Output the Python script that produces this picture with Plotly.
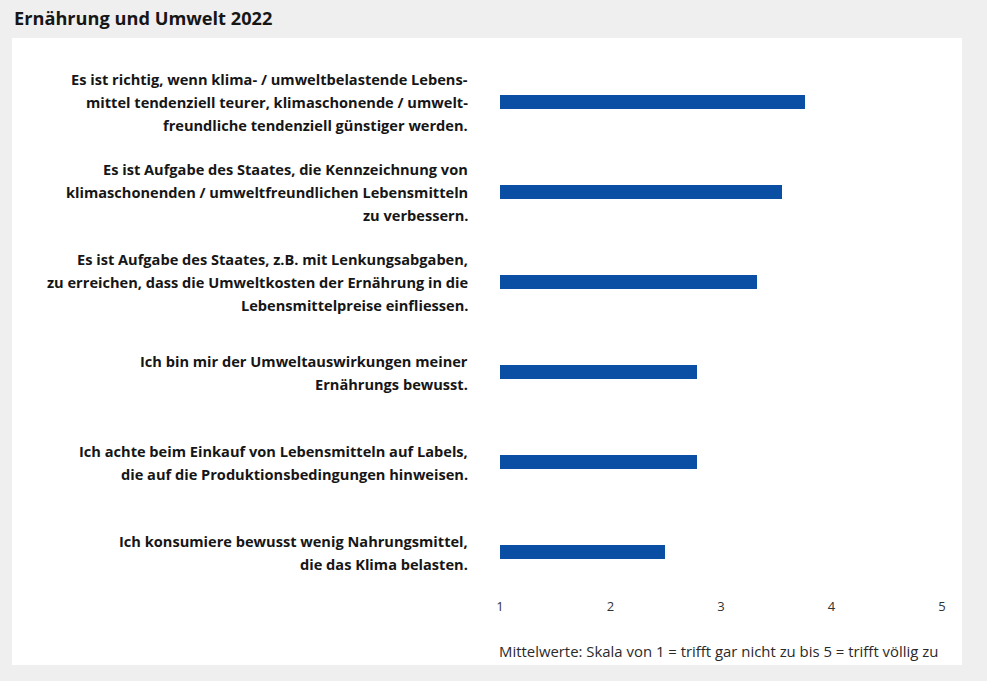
import plotly.graph_objects as go

# Statements (line breaks as they are set in the chart) and mean scores
statements = [
    "Es ist richtig, wenn klima- / umweltbelastende Lebens-<br>mittel tendenziell teurer, klimaschonende / umwelt-<br>freundliche tendenziell günstiger werden.",
    "Es ist Aufgabe des Staates, die Kennzeichnung von<br>klimaschonenden / umweltfreundlichen Lebensmitteln<br>zu verbessern.",
    "Es ist Aufgabe des Staates, z.B. mit Lenkungsabgaben,<br>zu erreichen, dass die Umweltkosten der Ernährung in die<br>Lebensmittelpreise einfliessen.",
    "Ich bin mir der Umweltauswirkungen meiner<br>Ernährungs bewusst.",
    "Ich achte beim Einkauf von Lebensmitteln auf Labels,<br>die auf die Produktionsbedingungen hinweisen.",
    "Ich konsumiere bewusst wenig Nahrungsmittel,<br>die das Klima belasten.",
]
means = [3.76, 3.55, 3.33, 2.78, 2.78, 2.49]
tick_vals = [1, 2, 3, 4, 5]
tick_text = ["1", "2", "3", "4", "5"]

title_text = "Ernährung und Umwelt 2022"
note_text = "Mittelwerte: Skala von 1 = trifft gar nicht zu bis 5 = trifft völlig zu"

W, H = 987, 681
M_L, M_R, M_T, M_B = 500, 45, 57, 84
PW, PH = W - M_L - M_R, H - M_T - M_B
BAR_COLOR = "#0a4fa3"
FONT = "Open Sans"


def px_x(px):
    """Horizontal pixel position -> paper coordinate of the plot area."""
    return (px - M_L) / PW


def px_y(py):
    """Vertical pixel position (from top) -> paper coordinate of the plot area."""
    return (H - M_B - py) / PH


positions = list(range(len(statements)))

fig = go.Figure()
fig.add_trace(go.Bar(
    x=[m - 1 for m in means],
    base=[1] * len(means),
    y=positions,
    orientation="h",
    width=0.145,
    marker=dict(color=BAR_COLOR, line=dict(width=0)),
    hoverinfo="skip",
))

annotations = []
LINE_H = 23
for pos, label in zip(positions, statements):
    lines = label.split("<br>")
    n = len(lines)
    for k, line in enumerate(lines):
        offset = ((n - 1) / 2 - k) * LINE_H
        annotations.append(dict(
            x=1, xref="x", xshift=-30, xanchor="right",
            y=pos, yref="y", yshift=offset, yanchor="middle",
            text="<b>" + line + "</b>", showarrow=False,
            font=dict(family=FONT, size=14.6, color="#161616"),
        ))

annotations.append(dict(
    x=px_x(12), xref="paper", xanchor="left",
    y=px_y(18), yref="paper", yanchor="middle",
    text="<b>" + title_text + "</b>", showarrow=False,
    font=dict(family=FONT, size=18.2, color="#161616"),
))
annotations.append(dict(
    x=1, xref="x", xanchor="left", xshift=-3,
    y=px_y(651), yref="paper", yanchor="middle",
    text=note_text, showarrow=False,
    font=dict(family=FONT, size=14.9, color="#2a2a2a"),
))

shapes = [
    # white content panel on the grey page
    dict(type="rect", xref="paper", yref="paper",
         x0=px_x(12), x1=px_x(962), y0=px_y(665), y1=px_y(38),
         fillcolor="white", line=dict(width=0), layer="below"),
]

fig.update_layout(
    width=W, height=H,
    margin=dict(l=M_L, r=M_R, t=M_T, b=M_B),
    paper_bgcolor="#efefef",
    plot_bgcolor="rgba(0,0,0,0)",
    showlegend=False,
    bargap=0,
    xaxis=dict(
        range=[1, 5], tickvals=tick_vals, ticktext=tick_text,
        showgrid=False, zeroline=False, showline=False, ticks="",
        tickfont=dict(family=FONT, size=13, color="#333333"),
        fixedrange=True,
    ),
    yaxis=dict(
        range=[5.5, -0.5], showticklabels=False, showgrid=False,
        zeroline=False, showline=False, fixedrange=True,
    ),
    annotations=annotations,
    shapes=shapes,
)

fig.write_html("out.html")
